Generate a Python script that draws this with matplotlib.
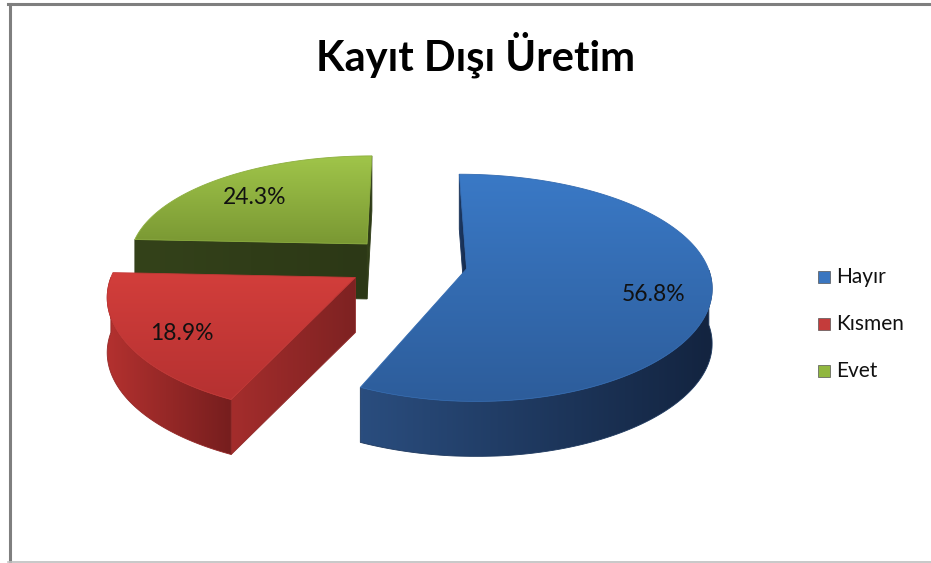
import numpy as np
import matplotlib
matplotlib.use("Agg")
import matplotlib.pyplot as plt
from matplotlib.patches import Polygon, Rectangle
from matplotlib.lines import Line2D
from matplotlib.colors import to_rgb

# ---- data ----
categories = ["Hayır", "Kısmen", "Evet"]
shares = [56.8, 18.9, 24.3]
chart_title = "Kayıt Dışı Üretim"

# ---- styling ----
FONT = "Lato"
top_colors = [("#3a79c6", "#2d5d9b"), ("#d23e3b", "#b53131"), ("#a0c54a", "#7a9833")]
side_colors = [("#2a4d7e", "#132440"), ("#b3312f", "#761e1e"), ("#34421a", "#2b3715")]
cut_colors = [("#1d3a63", "#16294a"), ("#a42d2c", "#7e2222"), ("#34421a", "#2c3816")]
legend_colors = ["#3a76c0", "#c43c3b", "#91b73f"]

W, H = 931, 563
fig = plt.figure(figsize=(W / 100, H / 100), dpi=100)
ax = fig.add_axes([0, 0, 1, 1])
ax.set_xlim(0, W)
ax.set_ylim(H, 0)
ax.axis("off")

# projection of the pie plane (unit radius) onto the canvas
CX, CY = 407.5, 263.0
RX, RY = 240.0, 108.5
KX, KY = 0.14, 0.166
DEPTH = 55.0
EXPLODE = 0.25


def proj(u, v, z=0.0):
    u = np.asarray(u, float)
    v = np.asarray(v, float)
    sx = 1.0 / (1.0 + KX * v)
    sy = 1.0 / (1.0 + KY * v)
    return CX + RX * u * sx, CY - RY * v * sy + DEPTH * z


zorder = [2]


def grad_fill(xy, c0, c1, direction):
    xy = np.asarray(xy)
    z = zorder[0]
    zorder[0] += 1
    poly = Polygon(xy, closed=True, facecolor="none", edgecolor="none", zorder=z)
    ax.add_patch(poly)
    x0, y0 = xy.min(0)
    x1, y1 = xy.max(0)
    t = np.linspace(0, 1, 64)
    a, b = np.array(to_rgb(c0)), np.array(to_rgb(c1))
    cols = a[None, :] * (1 - t[:, None]) + b[None, :] * t[:, None]
    img = cols[:, None, :] if direction == "v" else cols[None, :, :]
    im = ax.imshow(img, extent=(x0, x1, y1, y0), origin="upper",
                   interpolation="bilinear", aspect="auto", zorder=z)
    im.set_clip_path(poly)
    mid = tuple((a + b) / 2)
    ax.add_patch(Polygon(xy, closed=True, facecolor="none", edgecolor=mid,
                         linewidth=0.6, zorder=z + 0.5))


def signed_area(xy):
    x, y = xy[:, 0], xy[:, 1]
    return np.sum(x * np.roll(y, -1) - np.roll(x, -1) * y)


# slice geometry
slices = []
cum = 0.0
for i, val in enumerate(shares):
    a_start = 90.0 - cum * 3.6
    a_end = 90.0 - (cum + val) * 3.6
    cum += val
    mid = np.radians((a_start + a_end) / 2)
    slices.append(dict(i=i, a1=a_end, a2=a_start,
                       ou=EXPLODE * np.cos(mid), ov=EXPLODE * np.sin(mid), mid=mid))

# back slices first
for s in sorted(slices, key=lambda d: -d["ov"]):
    i, ou, ov = s["i"], s["ou"], s["ov"]
    t = np.radians(np.linspace(s["a1"], s["a2"], 240))
    u_rim, v_rim = ou + np.cos(t), ov + np.sin(t)

    # radial cut faces
    for edge, sign in ((s["a1"], 1), (s["a2"], -1)):
        ang = np.radians(edge)
        ru, rv = ou + np.cos(ang), ov + np.sin(ang)
        pts = [proj(ou, ov, 0), proj(ru, rv, 0), proj(ru, rv, 1), proj(ou, ov, 1)]
        xy = np.array([[float(p[0]), float(p[1])] for p in pts])
        if signed_area(xy) * sign > 0:
            grad_fill(xy, *cut_colors[i], "h")

    # curved outer side (front-facing part)
    front = np.sin(t) <= 0
    if front.any():
        idx = np.where(front)[0]
        runs = np.split(idx, np.where(np.diff(idx) > 1)[0] + 1)
        for r in runs:
            if len(r) < 2:
                continue
            xt, yt = proj(u_rim[r], v_rim[r], 0)
            xb, yb = proj(u_rim[r], v_rim[r], 1)
            xy = np.column_stack([np.r_[xt, xb[::-1]], np.r_[yt, yb[::-1]]])
            grad_fill(xy, *side_colors[i], "h")

    # top face
    xc, yc = proj(ou, ov, 0)
    xr, yr = proj(u_rim, v_rim, 0)
    xy = np.column_stack([np.r_[float(xc), xr], np.r_[float(yc), yr]])
    grad_fill(xy, *top_colors[i], "v")

    # value label
    lr = 0.76
    lx, ly = proj(ou + lr * np.cos(s["mid"]), ov + lr * np.sin(s["mid"]) - 0.06, 0)
    ax.text(float(lx), float(ly), f"{shares[i]:.1f}%", ha="center", va="center",
            fontsize=16.5, family=FONT, color="#111111", zorder=100)

# title
ax.text(476, 55, chart_title, ha="center", va="center", fontsize=30,
        fontweight="bold", family=FONT, color="black", zorder=100)

# legend
LEG_X, LEG_Y0, LEG_DY = 818, 277, 47
for k, name in enumerate(categories):
    y = LEG_Y0 + k * LEG_DY
    ax.add_patch(Rectangle((LEG_X, y - 6), 12, 12, facecolor=legend_colors[k],
                           edgecolor="#555555", linewidth=0.5, zorder=100))
    ax.text(LEG_X + 18, y, name, ha="left", va="center", fontsize=15,
            family=FONT, color="#111111", zorder=100)

# chart frame
ax.add_line(Line2D([9.5, 9.5], [4, H], color="#7f7f7f", linewidth=2.2, zorder=200))
ax.add_line(Line2D([8, W], [4, 4], color="#7f7f7f", linewidth=2.2, zorder=200))
ax.add_line(Line2D([8, W], [561.5, 561.5], color="#bfbfbf", linewidth=1.2, zorder=200))

ax.set_xlim(0, W)
ax.set_ylim(H, 0)
fig.savefig("out.png", dpi=100)
